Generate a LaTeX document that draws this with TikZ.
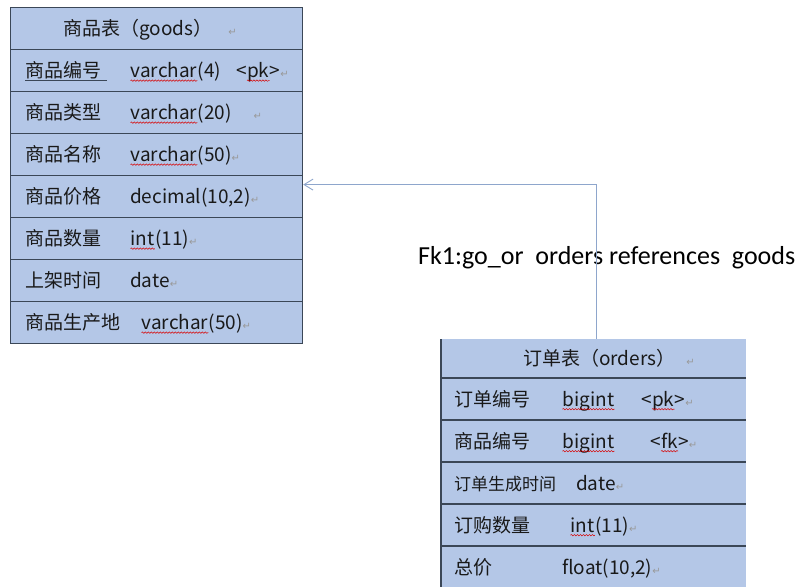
\documentclass[tikz,border=0pt]{standalone}
\usepackage{fontspec}
\setmainfont{Carlito}
\newfontfamily\cjk{Noto Sans CJK SC}
\newfontfamily\symb{DejaVu Sans}
\usetikzlibrary{positioning,arrows.meta,decorations.pathmorphing}
\definecolor{rowblue}{HTML}{B4C7E7}
\definecolor{rowline}{HTML}{3B4757}
\definecolor{fkblue}{HTML}{8EA6CC}
% paragraph mark and spelling squiggle
\newcommand{\pmark}{{\symb\fontsize{10}{10}\selectfont\color{black!40}↵}}
\newcommand{\sq}[1]{\tikz[baseline=(w.base)]{\node[inner sep=0pt, anchor=base, draw=none, fill=none] (w) {#1};
  \draw[spell] ([yshift=-3pt]w.base west) -- ([yshift=-3pt]w.base east);}}
\begin{document}
\begin{tikzpicture}[x=1pt, y=-1pt,
    goodsrow/.style={rectangle, fill=rowblue, draw=rowline, line width=1.2pt, minimum width=292pt, minimum height=42pt, inner sep=0pt, anchor=north west},
    ordersrow/.style={rectangle, fill=rowblue, minimum width=305pt, minimum height=42pt, inner sep=0pt, anchor=north west},
    tline/.style={rowline, line width=1.2pt},
    cell/.style={inner sep=0pt, anchor=base west, text=black!90, font=\cjk\fontsize{19}{19}\selectfont},
    spell/.style={red!85!black, line width=0.5pt, decorate, decoration={snake, amplitude=0.7pt, segment length=3pt}},
    fkarrow/.style={fkblue, line width=0.9pt, -{Straight Barb[length=9pt, width=11pt]}},
    fklabel/.style={inner sep=0pt, anchor=base west, font=\fontsize{26}{27}\selectfont}]
    \useasboundingbox (0,0) rectangle (799,586);

    % goods table
    \foreach \i in {0,...,7}
        \node[goodsrow] (g\i) at (10,7+42*\i) {};

    \node[cell] (g0t) at ([xshift=53pt,yshift=-7pt]g0.west) {商品表（goods）\hspace{16pt}\pmark};
    \node[cell] (g1n) at ([xshift=15pt,yshift=-7pt]g1.west) {商品编号};
    \node[cell] (g1t) at ([xshift=120pt,yshift=-7pt]g1.west) {\sq{varchar}(4)};
    \node[cell] (g1k) at ([xshift=226pt,yshift=-7pt]g1.west) {<\sq{pk}>\pmark};
    \draw[tline] ([yshift=-2.5pt]g1n.base west) -- ([xshift=6pt,yshift=-2.5pt]g1n.base east);
    \node[cell] (g2n) at ([xshift=15pt,yshift=-7pt]g2.west) {商品类型};
    \node[cell] (g2t) at ([xshift=120pt,yshift=-7pt]g2.west) {\sq{varchar}(20)\hspace{22pt}\pmark};
    \node[cell] (g3n) at ([xshift=15pt,yshift=-7pt]g3.west) {商品名称};
    \node[cell] (g3t) at ([xshift=120pt,yshift=-7pt]g3.west) {\sq{varchar}(50)\pmark};
    \node[cell] (g4n) at ([xshift=15pt,yshift=-7pt]g4.west) {商品价格};
    \node[cell] (g4t) at ([xshift=120pt,yshift=-7pt]g4.west) {decimal(10,2)\pmark};
    \node[cell] (g5n) at ([xshift=15pt,yshift=-7pt]g5.west) {商品数量};
    \node[cell] (g5t) at ([xshift=120pt,yshift=-7pt]g5.west) {\sq{int}(11)\pmark};
    \node[cell] (g6n) at ([xshift=15pt,yshift=-7pt]g6.west) {上架时间};
    \node[cell] (g6t) at ([xshift=120pt,yshift=-7pt]g6.west) {date\pmark};
    \node[cell] (g7n) at ([xshift=15pt,yshift=-7pt]g7.west) {商品生产地};
    \node[cell] (g7t) at ([xshift=131pt,yshift=-7pt]g7.west) {\sq{varchar}(50)\pmark};

    % orders table
    \node[ordersrow, minimum height=39pt] (o0) at (441,339) {};
    \foreach \i in {1,...,5}
        \node[ordersrow] (o\i) at (441,336+42*\i) {};
    \draw[tline] (o0.north west) -- (o5.south west);
    \foreach \i in {1,...,5}
        \draw[tline] (o\i.north west) -- (o\i.north east);

    \node[cell] (o0t) at ([xshift=82pt,yshift=-7pt]o0.west) {订单表（orders）\hspace{11pt}\pmark};
    \node[cell] (o1n) at ([xshift=13pt,yshift=-7pt]o1.west) {订单编号};
    \node[cell] (o1t) at ([xshift=121pt,yshift=-7pt]o1.west) {\sq{bigint}};
    \node[cell] (o1k) at ([xshift=200pt,yshift=-7pt]o1.west) {<\sq{pk}>\pmark};
    \node[cell] (o2n) at ([xshift=13pt,yshift=-7pt]o2.west) {商品编号};
    \node[cell] (o2t) at ([xshift=121pt,yshift=-7pt]o2.west) {\sq{bigint}};
    \node[cell] (o2k) at ([xshift=209pt,yshift=-7pt]o2.west) {<\sq{fk}>\pmark};
    \node[cell, font=\cjk\fontsize{17}{17}\selectfont] (o3n) at ([xshift=13pt,yshift=-7pt]o3.west) {订单生成时间};
    \node[cell] (o3t) at ([xshift=135pt,yshift=-7pt]o3.west) {date\pmark};
    \node[cell] (o4n) at ([xshift=13pt,yshift=-7pt]o4.west) {订购数量};
    \node[cell] (o4t) at ([xshift=129pt,yshift=-7pt]o4.west) {\sq{int}(11)\pmark};
    \node[cell] (o5n) at ([xshift=13pt,yshift=-7pt]o5.west) {总价};
    \node[cell] (o5t) at ([xshift=121pt,yshift=-7pt]o5.west) {float(10,2)\pmark};

    % foreign key
    \node[fklabel] (fk) at (418,264) {Fk1:go\_or\ \ orders references\ \ goods};
    \draw[fkarrow] ([xshift=2.5pt]o0.north) |- ([yshift=12pt]g4.east);
\end{tikzpicture}
\end{document}
